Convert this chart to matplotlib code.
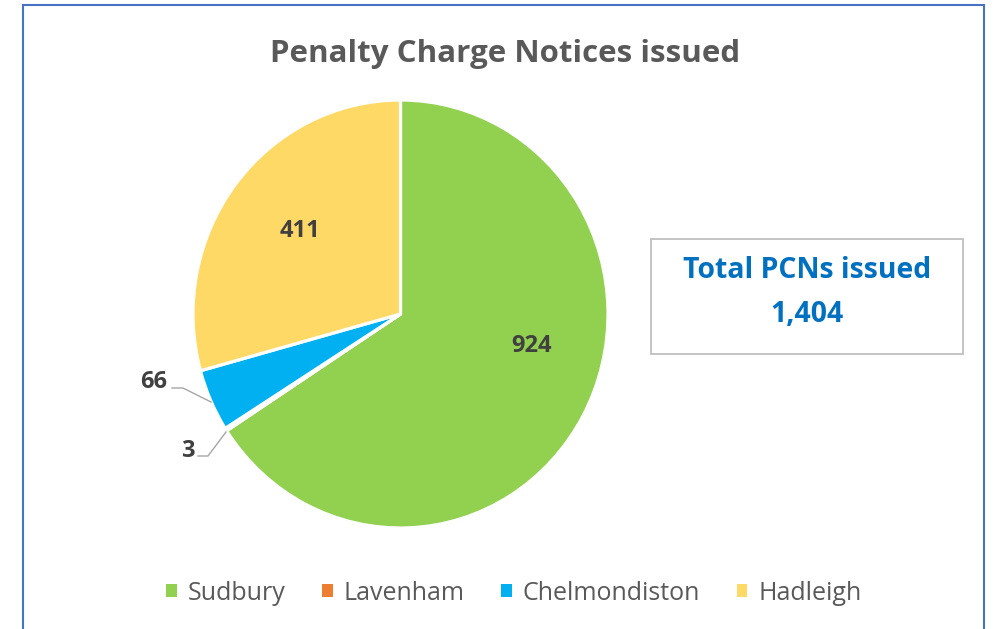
import matplotlib
matplotlib.use("Agg")
import matplotlib.pyplot as plt
from matplotlib.patches import Rectangle

categories = ["Sudbury", "Lavenham", "Chelmondiston", "Hadleigh"]
values = [924, 3, 66, 411]
colors = ["#92D050", "#ED7D31", "#00B0F0", "#FFD966"]
title = "Penalty Charge Notices issued"
total_label = "Total PCNs issued"

W, H = 995, 629
fig = plt.figure(figsize=(W / 100, H / 100), dpi=100)
FONT = "Open Sans"

# pie axes (slightly elliptical like the reference)
pl, pr, pt, pb = 193, 608, 100, 528
pax = fig.add_axes([pl / W, (H - pb) / H, (pr - pl) / W, (pb - pt) / H])
wedges, _ = pax.pie(values, colors=colors, startangle=90, counterclock=False,
                    radius=1, wedgeprops=dict(edgecolor="white", linewidth=2.3))
pax.set_aspect("auto")
pax.set_xlim(-1, 1)
pax.set_ylim(-1, 1)
pax.axis("off")

# overlay axes in pixel coordinates (y measured from bottom)
ax = fig.add_axes([0, 0, 1, 1])
ax.set_zorder(5)
ax.set_xlim(0, W)
ax.set_ylim(0, H)
ax.axis("off")

lab_col = "#404040"
lab_kw = dict(ha="center", va="baseline", fontsize=17, fontweight="bold",
              color=lab_col, family=FONT)
ax.text(532, H - 352, f"{values[0]:,}", **lab_kw)
ax.text(300, H - 237, f"{values[3]:,}", **lab_kw)
ax.text(154, H - 388, f"{values[2]:,}", **lab_kw)
ax.plot([172, 183, 211], [H - 388, H - 388, H - 402], color="#A6A6A6", lw=1.0)
ax.text(188, H - 457, f"{values[1]:,}", **lab_kw)
ax.plot([198, 208, 226], [H - 456, H - 456, H - 432], color="#A6A6A6", lw=1.0)

# title
ax.text(505, H - 62, title, ha="center", va="baseline", fontsize=22.5,
        fontweight="bold", color="#595959", family=FONT)

# total box
ax.add_patch(Rectangle((651, H - 354), 312, 115, facecolor="white",
                       edgecolor="#BFBFBF", lw=1.3))
ax.text(807, H - 278, total_label, ha="center", va="baseline", fontsize=20.4,
        fontweight="bold", color="#0070C0", family=FONT)
ax.text(807, H - 322, f"{sum(values):,}", ha="center", va="baseline", fontsize=20.4,
        fontweight="bold", color="#0070C0", family=FONT)

# outer border
ax.add_patch(Rectangle((23, -20), 961, H - 5 + 20, facecolor="none",
                       edgecolor="#4472C4", lw=1.5, clip_on=False))

leg = ax.legend(wedges, categories, loc="center", bbox_to_anchor=(514 / W, (H - 593) / H),
                ncol=4, frameon=False, handlelength=0.42, handleheight=0.42,
                handletextpad=0.45, columnspacing=1.45,
                prop=dict(family=FONT, size=18))
for t in leg.get_texts():
    t.set_color("#595959")
for h in leg.legend_handles:
    h.set_edgecolor("none")

fig.savefig("out.png", dpi=100)
